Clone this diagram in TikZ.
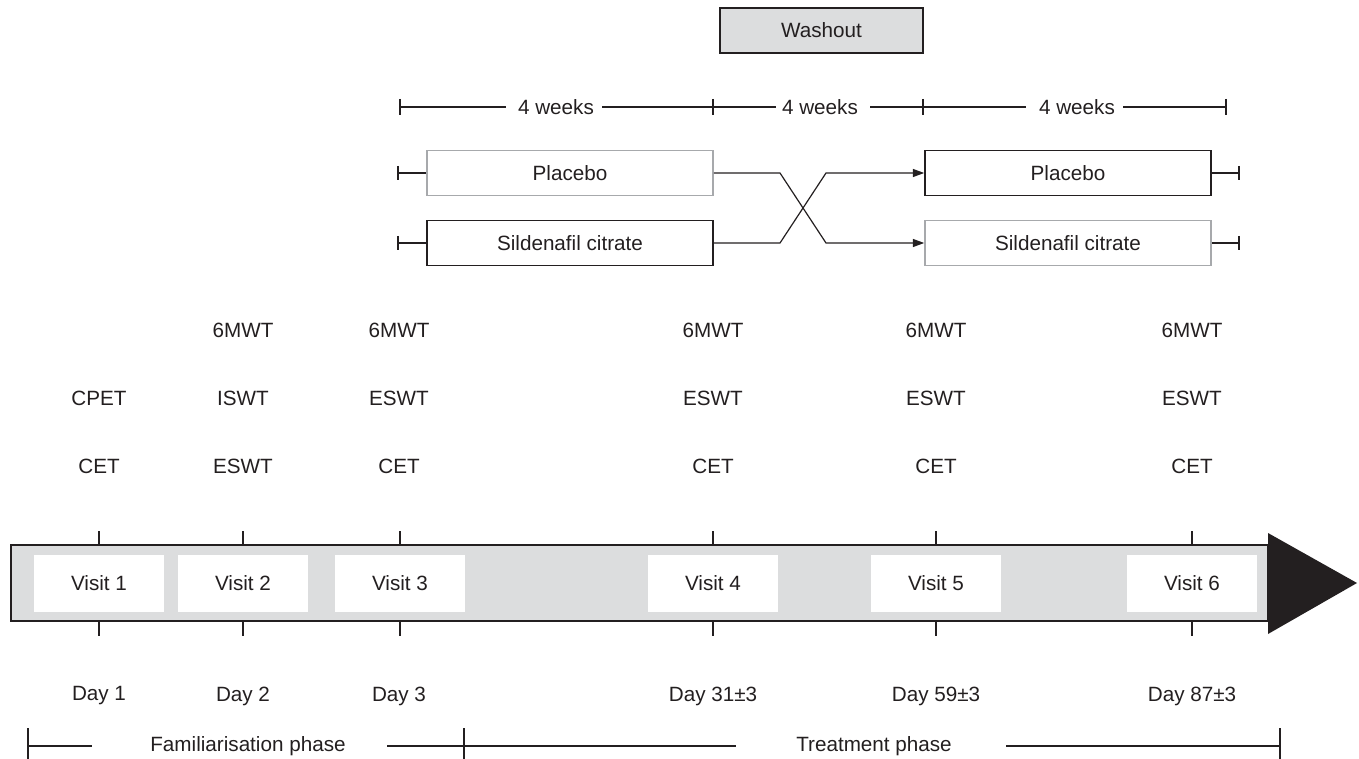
\documentclass[tikz,border=0pt]{standalone}
\usepackage{fontspec}
\setmainfont{Liberation Sans}
\usetikzlibrary{arrows.meta}
\definecolor{ink}{HTML}{231F20}
\definecolor{barfill}{HTML}{DCDDDE}
\definecolor{lightedge}{HTML}{A7A9AC}
\begin{document}
\begin{tikzpicture}[x=0.75pt,y=-0.75pt,
  every node/.style={font=\fontsize{15.5}{18}\selectfont, text=ink},
  lbl/.style={inner sep=0pt},
  ln/.style={draw=ink, line width=0.9pt},
  darkbox/.style={draw=ink, line width=1.2pt, minimum width=286*0.75pt, minimum height=45*0.75pt, inner sep=0pt},
  lightbox/.style={draw=lightedge, line width=1.2pt, minimum width=286*0.75pt, minimum height=45*0.75pt, inner sep=0pt},
  visitbox/.style={fill=white, minimum width=130*0.75pt, minimum height=57*0.75pt, inner sep=0pt},
  arr/.style={ln, -{Triangle[length=8.5pt,width=6pt]}}
]
\useasboundingbox (0,0) rectangle (1359,759);

% Washout
\node[draw=ink, fill=barfill, line width=1.1pt, minimum width=203*0.75pt, minimum height=45*0.75pt, inner sep=0pt] (washout) at (821.5,30.5) {Washout};

% 4 weeks scale
\coordinate (w0) at (400,107);
\coordinate (w1) at (713,107);
\coordinate (w2) at (923,107);
\coordinate (w3) at (1226,107);
\node[lbl] (wk1) at (556,107) {4 weeks};
\node[lbl] (wk2) at (820,107) {4 weeks};
\node[lbl] (wk3) at (1077,107) {4 weeks};
\coordinate (a1) at (506,107); \coordinate (b1) at (602,107);
\coordinate (a2) at (776,107); \coordinate (b2) at (870,107);
\coordinate (a3) at (1026,107); \coordinate (b3) at (1123,107);
\draw[ln] (w0) -- (a1);
\draw[ln] (b1) -- (w1) -- (a2);
\draw[ln] (b2) -- (w2) -- (a3);
\draw[ln] (b3) -- (w3);
\foreach \c in {w0,w1,w2,w3} \draw[ln] ([yshift=8*0.75pt]\c) -- ([yshift=-8*0.75pt]\c);

% Treatment arms
\node[lightbox] (pl1) at (570,173) {Placebo};
\node[darkbox] (sc1) at (570,243) {Sildenafil citrate};
\node[darkbox] (pl2) at (1068,173) {Placebo};
\node[lightbox] (sc2) at (1068,243) {Sildenafil citrate};
\coordinate (lt1) at (398,173);
\coordinate (lt2) at (398,243);
\coordinate (rt1) at (1239,173);
\coordinate (rt2) at (1239,243);
\draw[ln] (lt1) -- (pl1.west);
\draw[ln] (lt2) -- (sc1.west);
\draw[ln] (pl2.east) -- (rt1);
\draw[ln] (sc2.east) -- (rt2);
\foreach \c in {lt1,lt2,rt1,rt2} \draw[ln] ([yshift=7*0.75pt]\c) -- ([yshift=-7*0.75pt]\c);
\coordinate (x1) at (780,173);
\coordinate (x2) at (826,243);
\coordinate (x3) at (780,243);
\coordinate (x4) at (826,173);
\draw[arr] (pl1.east) -- (x1) -- (x2) -- (sc2.west);
\draw[arr] (sc1.east) -- (x3) -- (x4) -- (pl2.west);

% Test labels
\node[lbl] (t1b) at (99,398) {CPET};
\node[lbl] (t1c) at (99,466) {CET};
\node[lbl] (t2a) at (243,330) {6MWT};
\node[lbl] (t2b) at (243,398) {ISWT};
\node[lbl] (t2c) at (243,466) {ESWT};
\node[lbl] (t3a) at (399,330) {6MWT};
\node[lbl] (t3b) at (399,398) {ESWT};
\node[lbl] (t3c) at (399,466) {CET};
\foreach \i/\x in {4/713,5/936,6/1192} {
  \node[lbl] (t\i a) at (\x,330) {6MWT};
  \node[lbl] (t\i b) at (\x,398) {ESWT};
  \node[lbl] (t\i c) at (\x,466) {CET};
}

% Timeline bar
\path[fill=barfill, draw=ink, line width=1.1pt] (11,545) rectangle (1268,621);
\fill[ink] (1268,533) -- (1357,583) -- (1268,634) -- cycle;

\foreach \i/\x in {1/99,2/243,3/400,4/713,5/936,6/1192} {
  \node[visitbox] (v\i) at (\x,583) {Visit \i};
  \draw[ln] (\x,531) -- (\x,545);
  \draw[ln] (\x,621) -- (\x,636);
}

% Days
\node[lbl] (d1) at (99,696) {Day 1};
\node[lbl] (d2) at (243,696) {Day 2};
\node[lbl] (d3) at (399,696) {Day 3};
\node[lbl] (d4) at (713,696) {Day 31±3};
\node[lbl] (d5) at (936,696) {Day 59±3};
\node[lbl] (d6) at (1192,696) {Day 87±3};

% Phases
\coordinate (p0) at (28,746);
\coordinate (p1) at (464,746);
\coordinate (p2) at (1280,746);
\node[lbl] (fam) at (248,746) {Familiarisation phase};
\node[lbl] (trt) at (874,746) {Treatment phase};
\coordinate (f1) at (92,746); \coordinate (f2) at (387,746);
\coordinate (g1) at (736,746); \coordinate (g2) at (1006,746);
\draw[ln] (p0) -- (f1);
\draw[ln] (f2) -- (p1) -- (g1);
\draw[ln] (g2) -- (p2);
\foreach \c in {p0,p1,p2} \draw[ln] ([yshift=18*0.75pt]\c) -- ([yshift=-14*0.75pt]\c);
\end{tikzpicture}
\end{document}
